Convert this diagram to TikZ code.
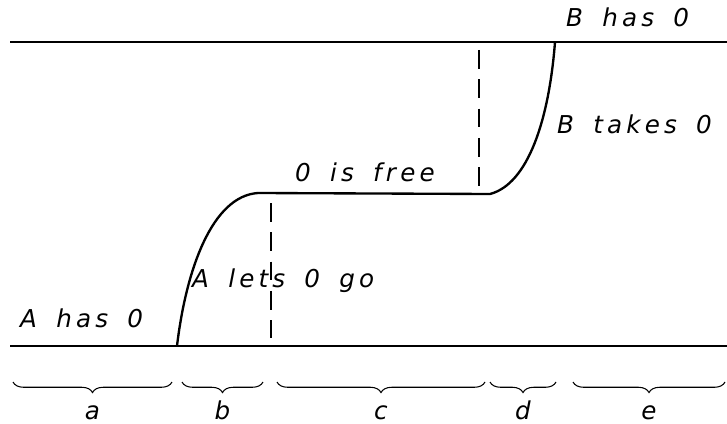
\documentclass[tikz,border=0pt]{standalone}
\usepackage{fontspec}
\usepackage{tikz}
\usetikzlibrary{arrows.meta,positioning,decorations.pathreplacing}
\newfontfamily\draftfont{DejaVu Sans}[LetterSpace=17, WordSpace=1.6]
\tikzset{
  lbl/.style={font=\draftfont\itshape\fontsize{21}{24}\selectfont, inner sep=0pt, anchor=base west},
  wire/.style={line width=2pt},
  guide/.style={line width=1.1pt, dash pattern=on 16pt off 9pt},
  phase/.style={decorate, decoration={brace, mirror, amplitude=9pt}, line width=0.9pt}
}

\begin{document}
\begin{tikzpicture}[x=0.03cm, y=-0.03cm]
  \useasboundingbox (0,0) rectangle (727,424);
  % the two levels
  \coordinate (lowL) at (10,346);
  \coordinate (lowR) at (727,346);
  \coordinate (topL) at (10,42);
  \coordinate (topR) at (727,42);
  \draw[wire] (lowL) -- (lowR);
  \draw[wire] (topL) -- (topR);
  % the path of 0
  \coordinate (let) at (177,346);
  \coordinate (free1) at (258,193);
  \coordinate (free2) at (490,194);
  \coordinate (take) at (555,42);
  \draw[wire] (let) .. controls (186,270) and (212,196) .. (free1)
    -- (free2) .. controls (528,184) and (549,120) .. (take);
  % dashed guides
  \coordinate (g1a) at (271,203);
  \coordinate (g1b) at (271,338);
  \coordinate (g2a) at (479,50);
  \coordinate (g2b) at (479,187);
  \draw[guide] (g1a) -- (g1b);
  \draw[guide] (g2a) -- (g2b);
  % labels
  \node[lbl] (ahas) at (20,327) {A has 0};
  \node[lbl] (alets) at (192,287) {A lets 0 go};
  \node[lbl] (isfree) at (295,181) {0 is free};
  \node[lbl] (btakes) at (557,133) {B takes 0};
  \node[lbl] (bhas) at (566,27) {B has 0};
  % phases
  \foreach \nm/\xa/\xb in {a/13/172, b/182/263, c/277/485, d/490/556, e/573/725} {
    \coordinate (\nm L) at (\xa,382);
    \coordinate (\nm R) at (\xb,382);
    \draw[phase] (\nm L) -- (\nm R);
    \node[lbl, anchor=base] (\nm lab) at ({(\xa+\xb)/2},419) {\nm};
  }
\end{tikzpicture}
\end{document}
